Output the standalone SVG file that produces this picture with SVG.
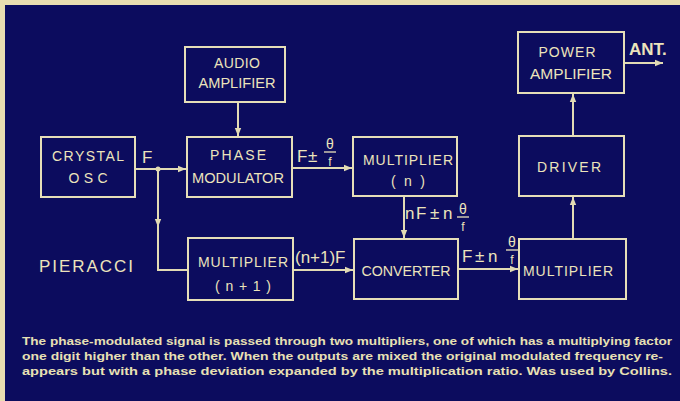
<svg xmlns="http://www.w3.org/2000/svg" width="680" height="401" viewBox="0 0 680 401">
<style>
.box{fill:none;stroke:#e6dfb8;stroke-width:2}
.t{font-family:"Liberation Sans",Arial,sans-serif;font-size:14px;fill:#ece4bc;text-anchor:middle}
.lbl{font-family:"Liberation Sans",Arial,sans-serif;font-size:17px;fill:#ece4bc}
.th{font-family:"Liberation Sans",Arial,sans-serif;font-size:14px;fill:#ece4bc;text-anchor:middle}
.sm{font-family:"Liberation Sans",Arial,sans-serif;font-size:12px;fill:#ece4bc;text-anchor:middle}
.cap{font-family:"Liberation Sans",Arial,sans-serif;font-size:10.5px;font-weight:bold;fill:#e8e0b4}
.wire{stroke:#e2dbb4;stroke-width:2;fill:none}
.fr{stroke:#ece4bc;stroke-width:1.3}
</style>
<defs>
<marker id="ah" viewBox="0 0 10 10" refX="10" refY="5" markerWidth="9" markerHeight="8" markerUnits="userSpaceOnUse" orient="auto">
<path d="M0,1 L10,5 L0,9 z" fill="#e2dbb4"/>
</marker>
</defs>
<rect width="680" height="401" fill="#0c0c5e"/>
<rect x="0" y="0" width="680" height="5" fill="#e9deb0"/>
<rect x="0" y="0" width="5" height="401" fill="#e9deb0"/>

<g id="connectors">
<path class="wire" d="M238,102 V136" marker-end="url(#ah)"/>
<path class="wire" d="M135,169 H186" marker-end="url(#ah)"/>
<path class="wire" d="M158,169 V227" marker-end="url(#ah)"/>
<path class="wire" d="M158,225 V270 H188"/>
<circle cx="158" cy="169" r="2.5" fill="#e2dbb4"/>
<path class="wire" d="M292,168 H352" marker-end="url(#ah)"/>
<path class="wire" d="M404,196 V238" marker-end="url(#ah)"/>
<path class="wire" d="M293,270 H353" marker-end="url(#ah)"/>
<path class="wire" d="M458,269 H518" marker-end="url(#ah)"/>
<path class="wire" d="M573,239 V197" marker-end="url(#ah)"/>
<path class="wire" d="M573,136 V94" marker-end="url(#ah)"/>
<path class="wire" d="M624,63 H663" marker-end="url(#ah)"/>
</g>

<g id="audio">
<rect class="box" x="185" y="47" width="100" height="55"/>
<text class="t" x="237" y="68" textLength="46" lengthAdjust="spacing">AUDIO</text>
<text class="t" x="237" y="88" textLength="77" lengthAdjust="spacingAndGlyphs">AMPLIFIER</text>
</g>
<g id="crystal">
<rect class="box" x="41" y="137" width="94" height="60"/>
<text class="t" x="88" y="161" textLength="72" lengthAdjust="spacing">CRYSTAL</text>
<text class="t" x="88" y="183" textLength="39" lengthAdjust="spacing">OSC</text>
</g>
<g id="phase">
<rect class="box" x="187" y="137" width="105" height="60"/>
<text class="t" x="238" y="160" textLength="56" lengthAdjust="spacing">PHASE</text>
<text class="t" x="238" y="183" textLength="92" lengthAdjust="spacingAndGlyphs">MODULATOR</text>
</g>
<g id="mult-n">
<rect class="box" x="353" y="137" width="104" height="59"/>
<text class="t" x="408" y="165" textLength="90" lengthAdjust="spacing">MULTIPLIER</text>
<text class="t" x="408" y="186" textLength="34" lengthAdjust="spacing">( n )</text>
</g>
<g id="power">
<rect class="box" x="518" y="32" width="106" height="61"/>
<text class="t" x="567" y="57" textLength="57" lengthAdjust="spacing">POWER</text>
<text class="t" x="571" y="79" textLength="82" lengthAdjust="spacingAndGlyphs">AMPLIFIER</text>
</g>
<g id="driver">
<rect class="box" x="519" y="136" width="105" height="60"/>
<text class="t" x="569" y="172" textLength="64" lengthAdjust="spacing">DRIVER</text>
</g>
<g id="mult-n1">
<rect class="box" x="188" y="238" width="105" height="62"/>
<text class="t" x="243" y="267" textLength="90" lengthAdjust="spacing">MULTIPLIER</text>
<text class="t" x="243" y="291" textLength="56" lengthAdjust="spacing">( n + 1 )</text>
</g>
<g id="converter">
<rect class="box" x="354" y="239" width="104" height="60"/>
<text class="t" x="406" y="276" textLength="89" lengthAdjust="spacingAndGlyphs">CONVERTER</text>
</g>
<g id="mult-out">
<rect class="box" x="519" y="239" width="107" height="60"/>
<text class="t" x="568" y="276" textLength="90" lengthAdjust="spacing">MULTIPLIER</text>
</g>

<g id="labels">
<text class="lbl" x="142" y="163">F</text>
<text class="lbl" x="297" y="162">F</text>
<text class="lbl" x="308" y="162" font-size="14">±</text>
<text class="th" x="330" y="149">θ</text><line class="fr" x1="324" y1="152" x2="336" y2="152"/><text class="sm" x="330" y="166">f</text>
<text class="lbl" x="405" y="219" font-size="15">n</text>
<text class="lbl" x="416" y="219">F</text>
<text class="lbl" x="430" y="219" font-size="14">±</text>
<text class="lbl" x="443" y="219" font-size="15">n</text>
<text class="th" x="463" y="214">θ</text><line class="fr" x1="457" y1="217" x2="469" y2="217"/><text class="sm" x="463" y="231">f</text>
<text class="lbl" x="295" y="263" font-size="12">(n+1)</text>
<text class="lbl" x="335" y="263">F</text>
<text class="lbl" x="462" y="262">F</text>
<text class="lbl" x="475" y="262" font-size="14">±</text>
<text class="lbl" x="488" y="262" font-size="15">n</text>
<text class="th" x="512" y="247">θ</text><line class="fr" x1="506" y1="250" x2="518" y2="250"/><text class="sm" x="512" y="264">f</text>
<text class="lbl" x="629" y="55" font-size="8.5" font-weight="bold">ANT.</text>
<text class="lbl" x="39" y="272" font-size="15" textLength="94" lengthAdjust="spacing">PIERACCI</text>
</g>

<g id="caption">
<text class="cap" x="22" y="345" textLength="650" lengthAdjust="spacingAndGlyphs">The phase-modulated signal is passed through two multipliers, one of which has a multiplying factor</text>
<text class="cap" x="22" y="360" textLength="641" lengthAdjust="spacingAndGlyphs">one digit higher than the other. When the outputs are mixed the original modulated frequency re-</text>
<text class="cap" x="22" y="375" textLength="650" lengthAdjust="spacingAndGlyphs">appears but with a phase deviation expanded by the multiplication ratio. Was used by Collins.</text>
</g>
</svg>
